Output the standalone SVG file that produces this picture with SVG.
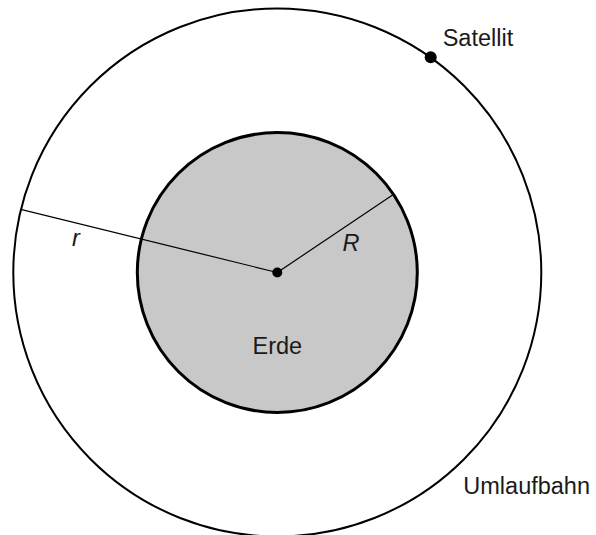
<svg xmlns="http://www.w3.org/2000/svg" width="596" height="535" viewBox="0 0 596 535">
<style>
text{font-family:"Liberation Sans",Arial,sans-serif;font-size:23.5px;fill:#1a1a1a}
.it{font-style:italic}
</style>
<rect width="596" height="535" fill="#fff"/>
<g id="orbit"><circle cx="277.3" cy="272.5" r="264" fill="none" stroke="#000" stroke-width="2"/></g>
<g id="earth"><circle cx="277.3" cy="272.5" r="140" fill="#c8c8c8" stroke="#000" stroke-width="3"/>
<text x="252.5" y="354.3">Erde</text></g>
<g id="connectors" stroke="#000" stroke-width="1.2">
<line x1="277.3" y1="272.5" x2="20.7" y2="209.3"/>
<line x1="277.3" y1="272.5" x2="393.3" y2="194.6"/>
</g>
<g id="center"><circle cx="277.3" cy="272.5" r="5" fill="#000"/></g>
<g id="satellite"><circle cx="430.7" cy="57.3" r="6" fill="#000"/>
<text x="442.7" y="45.5">Satellit</text></g>
<text class="it" x="72" y="246">r</text>
<text class="it" x="342.5" y="250.7">R</text>
<text x="463.3" y="494">Umlaufbahn</text>
</svg>
